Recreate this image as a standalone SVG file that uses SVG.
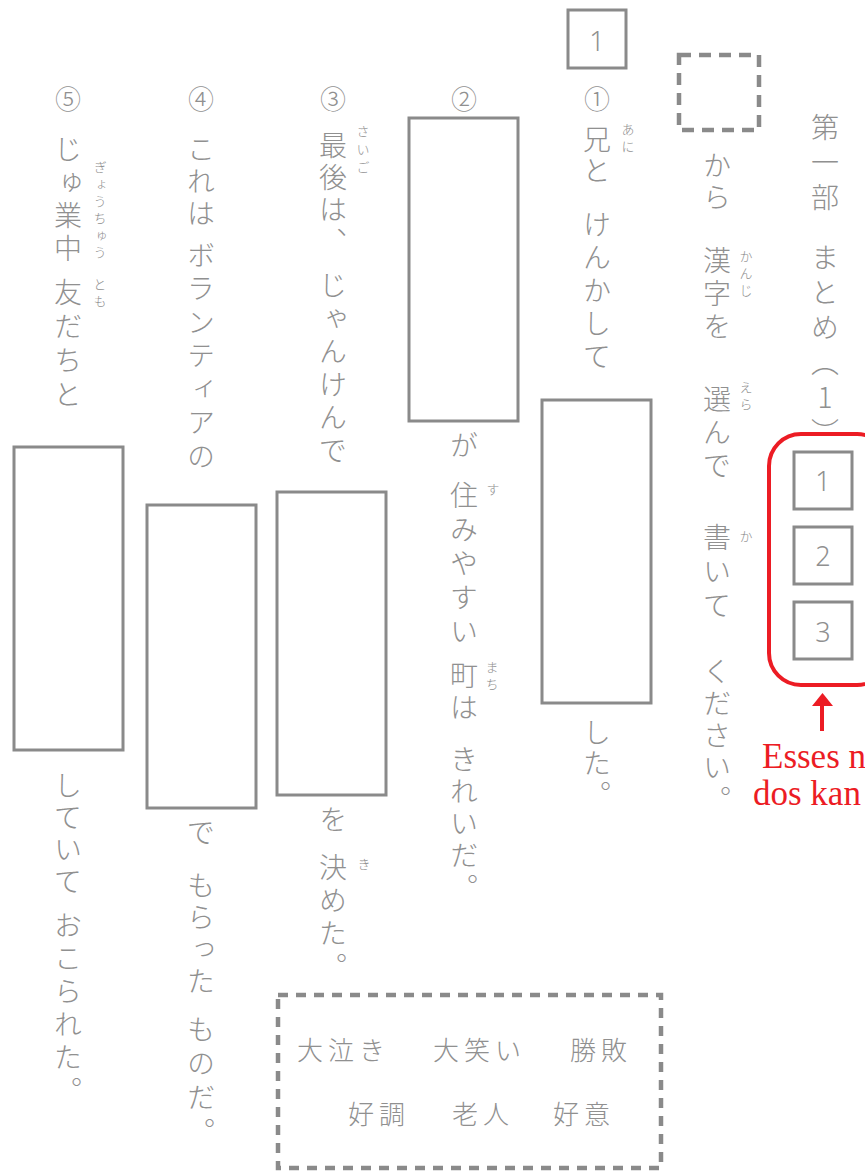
<svg xmlns="http://www.w3.org/2000/svg" width="865" height="1171" viewBox="0 0 865 1171">
<style>
text{font-family:"Noto Sans CJK JP","Noto Sans",sans-serif;fill:#909090;font-weight:300}
.v{writing-mode:vertical-rl;font-size:28px}
.r{writing-mode:vertical-rl;font-size:13px;letter-spacing:4px}
.c{font-size:26px;text-anchor:middle;dominant-baseline:central}
.box{fill:none;stroke:#8a8a8a;stroke-width:3}
.dash{fill:none;stroke:#8a8a8a;stroke-width:4.5}
.num{font-family:"Noto Sans","Liberation Sans",sans-serif;font-size:27px;text-anchor:middle;dominant-baseline:central}
.w{font-size:26px;letter-spacing:5px}
.red{fill:#ec1c24;font-family:"Liberation Serif",serif;font-size:35px;font-weight:400}
</style>
<rect width="865" height="1171" fill="#fff"/>

<g id="title">
<text class="v" x="825" y="113" style="letter-spacing:7px">第一部</text>
<text class="v" x="825" y="243" style="letter-spacing:7px;text-orientation:upright">まとめ（1）</text>
</g>

<g id="instruction">
<rect class="dash" x="679" y="55" width="80" height="75" stroke-dasharray="12 8"/>
<text class="v" x="717" y="151" style="letter-spacing:4px">から</text>
<text class="v" x="717" y="246" style="letter-spacing:5px">漢字を</text>
<text class="r" x="746" y="250">かんじ</text>
<text class="v" x="717" y="385" style="letter-spacing:5px">選んで</text>
<text class="r" x="746" y="381">えら</text>
<text class="v" x="717" y="523" style="letter-spacing:6px">書いて</text>
<text class="r" x="746" y="530">か</text>
<text class="v" x="717" y="657" style="letter-spacing:4px">ください。</text>
</g>

<g id="part-number">
<rect class="box" x="568" y="10" width="58" height="58"/>
<text class="num" x="597" y="40">1</text>
</g>

<g id="legend">
<rect x="769" y="434" width="120" height="251" rx="32" fill="none" stroke="#ec1c24" stroke-width="4"/>
<rect class="box" x="794" y="452" width="58" height="57"/>
<text class="num" x="823" y="480">1</text>
<rect class="box" x="794" y="527" width="58" height="57"/>
<text class="num" x="823" y="555">2</text>
<rect class="box" x="794" y="602" width="58" height="57"/>
<text class="num" x="823" y="631">3</text>
<text class="red" x="762" y="768">Esses n</text>
<text class="red" x="753" y="805">dos kan</text>
</g>

<g id="q1">
<text class="c" x="597" y="97">①</text>
<text class="v" x="597" y="125" style="letter-spacing:3px">兄と</text>
<text class="r" x="628" y="123">あに</text>
<text class="v" x="597" y="210" style="letter-spacing:5px">けんかして</text>
<rect class="box" x="542" y="400" width="109" height="303"/>
<text class="v" x="597" y="718" style="letter-spacing:3px">した。</text>
</g>

<g id="q2">
<text class="c" x="464" y="97">②</text>
<rect class="box" x="409" y="118" width="109" height="303"/>
<text class="v" x="464" y="431">が</text>
<text class="v" x="464" y="481" style="letter-spacing:6px">住みやすい</text>
<text class="r" x="493" y="483">す</text>
<text class="v" x="464" y="661" style="letter-spacing:4px">町は</text>
<text class="r" x="492" y="661">まち</text>
<text class="v" x="464" y="745" style="letter-spacing:4px">きれいだ。</text>
</g>

<g id="q3">
<text class="c" x="333" y="97">③</text>
<text class="v" x="333" y="131" style="letter-spacing:4px">最後は、</text>
<text class="r" x="363" y="125" style="letter-spacing:5px">さいご</text>
<text class="v" x="333" y="271" style="letter-spacing:5px">じゃんけんで</text>
<rect class="box" x="277" y="492" width="109" height="303"/>
<text class="v" x="333" y="805">を</text>
<text class="v" x="333" y="853" style="letter-spacing:5px">決めた。</text>
<text class="r" x="364" y="858">き</text>
</g>

<g id="q4">
<text class="c" x="201" y="97">④</text>
<text class="v" x="201" y="135" style="letter-spacing:4px">これは</text>
<text class="v" x="201" y="241" style="letter-spacing:5.5px">ボランティアの</text>
<rect class="box" x="147" y="505" width="109" height="303"/>
<text class="v" x="201" y="818">で</text>
<text class="v" x="201" y="871" style="letter-spacing:4px">もらった</text>
<text class="v" x="201" y="1015" style="letter-spacing:6px">ものだ。</text>
</g>

<g id="q5">
<text class="c" x="68" y="97">⑤</text>
<text class="v" x="68" y="135" style="letter-spacing:5px">じゅ業中</text>
<text class="r" x="100" y="161">ぎょうちゅう</text>
<text class="v" x="68" y="278" style="letter-spacing:6px">友だちと</text>
<text class="r" x="100" y="278">とも</text>
<rect class="box" x="14" y="447" width="109" height="303"/>
<text class="v" x="68" y="771" style="letter-spacing:4px">していて</text>
<text class="v" x="68" y="911" style="letter-spacing:5px">おこられた。</text>
</g>

<g id="word-bank">
<rect class="dash" x="278" y="995" width="383" height="173" stroke-dasharray="10 8"/>
<text class="w" x="297" y="1060">大泣き</text>
<text class="w" x="433" y="1060">大笑い</text>
<text class="w" x="570" y="1060">勝敗</text>
<text class="w" x="348" y="1124">好調</text>
<text class="w" x="452" y="1124">老人</text>
<text class="w" x="553" y="1124">好意</text>
</g>

<g id="connectors">
<line x1="822" y1="731" x2="822" y2="703" stroke="#ec1c24" stroke-width="4"/>
<polygon points="812,706 833,706 822.5,693" fill="#ec1c24"/>
</g>
</svg>
